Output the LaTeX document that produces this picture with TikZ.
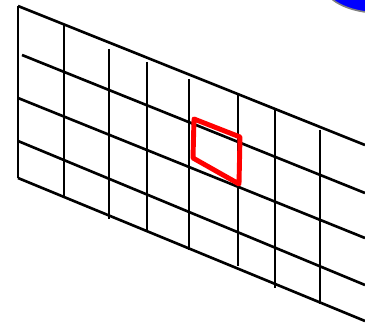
\documentclass[tikz,border=0pt]{standalone}
\usepackage{xcolor}
\usepackage{tikz}
\definecolor{GridBlack}{RGB}{0, 0, 0}
\definecolor{CellRed}{RGB}{255, 0, 0}
\definecolor{DiscBlue}{RGB}{0, 0, 255}
\definecolor{RimGray}{RGB}{128, 128, 128}

\begin{document}
\begin{tikzpicture}[
        x=0.02cm, y=-0.02cm,
        gridline/.style={draw=GridBlack, line width=1.5pt},
        cell/.style={draw=CellRed, line width=2.8pt, line join=round},
        disc/.style={fill=DiscBlue, draw=RimGray, line width=0.9pt}
    ]
    \useasboundingbox (0, 0) rectangle (365, 324);
    \clip (0, 0) rectangle (365, 324);

    % Scheibe oben rechts (nur angeschnitten)
    \path[disc] (380, -17) ellipse [x radius=57, y radius=30];

    % Schraege Linien
    \draw[gridline] (18, 6) -- (365, 145);
    \draw[gridline] (22, 55) -- (365, 193);
    \draw[gridline] (18, 98) -- (365, 238);
    \draw[gridline] (18, 141) -- (365, 285);
    \draw[gridline] (18, 178) -- (365, 321);

    % Senkrechte Linien
    \draw[gridline] (18, 6) -- (18, 178);
    \draw[gridline] (64, 25) -- (64, 197);
    \draw[gridline] (109, 49) -- (109, 219);
    \draw[gridline] (147, 62) -- (147, 232);
    \draw[gridline] (189, 79) -- (189, 250);
    \draw[gridline] (238, 94) -- (238, 266);
    \draw[gridline] (275, 110) -- (275, 288);
    \draw[gridline] (320, 130) -- (320, 304);

    % Markierte Zelle
    \draw[cell] (194, 119) -- (240, 137) -- (239, 184) -- (193, 158) -- cycle;

    \end{tikzpicture}
\end{document}
